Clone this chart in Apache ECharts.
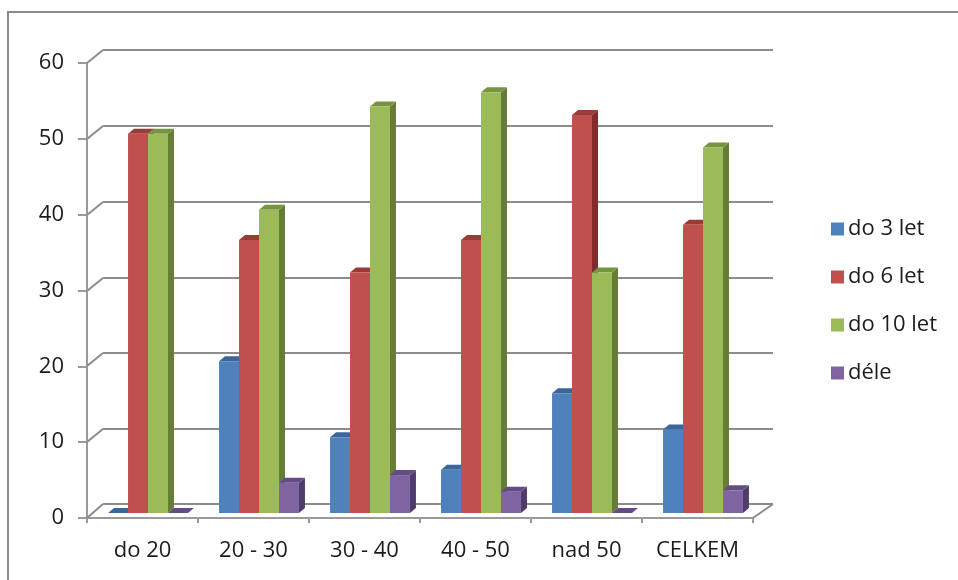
<!DOCTYPE html>
<html>
<head>
<meta charset="utf-8">
<script src="https://cdn.jsdelivr.net/npm/echarts@6/dist/echarts.min.js"></script>
<style>html,body{margin:0;padding:0;background:#fff;}#c{width:958px;height:580px;}</style>
</head>
<body>
<div id="c"></div>
<script>
const categories = ['do 20', '20 - 30', '30 - 40', '40 - 50', 'nad 50', 'CELKEM'];
const seriesNames = ['do 3 let', 'do 6 let', 'do 10 let', 'déle'];
const do3 = [0, 20, 10, 5.7, 15.8, 11];
const do6 = [50, 36, 31.7, 36, 52.5, 38];
const do10 = [50, 40, 53.6, 55.5, 31.7, 48.2];
const dele = [0, 4, 5, 2.8, 0, 3];
const yTicks = [0, 10, 20, 30, 40, 50, 60];

const seriesValues = [do3, do6, do10, dele];
const fronts = ['#4F81BD', '#C0504D', '#9BBB59', '#8064A2'];
const tops = ['#3B6699', '#9A3B38', '#779540', '#644C85'];
const sides = ['#2F5684', '#7E2D2B', '#667D37', '#503C6C'];
const FONT = 'Open Sans';
const TEXT_C = '#1c1c1c';
const GRID_C = '#8c8c8c';

const chart = echarts.init(document.getElementById('c'), null, {renderer: 'canvas'});

function gridRender(params, api) {
  const cs = params.coordSys;
  const v = api.value(1);
  const y = Math.round(api.coord([0, v])[1]);
  const left = cs.x, right = cs.x + cs.width;
  const dy = v === 0 ? -14 : -13;
  const children = [
    {type: 'line', shape: {x1: left, y1: y, x2: left + 16, y2: y + dy}, style: {stroke: GRID_C, lineWidth: 2}},
    {type: 'line', shape: {x1: left + 16, y1: y + dy, x2: right + 20, y2: y + dy}, style: {stroke: GRID_C, lineWidth: 2}}
  ];
  if (v === 0) {
    children.push({type: 'line', shape: {x1: right, y1: y, x2: right + 20, y2: y + dy}, style: {stroke: GRID_C, lineWidth: 2}});
  }
  return {type: 'group', children: children};
}

function makeBarRender(s) {
  return function (params, api) {
    const idx = api.value(0);
    const val = api.value(1);
    const base = api.coord([idx, 0]);
    const top = api.coord([idx, val]);
    const bandW = api.size([1, 0])[0];
    const barW = bandW * 0.18;
    const shiftX = 5.5, shiftY = -5;
    const dx = 6, dy = 5;
    const x0 = base[0] - 2 * barW + shiftX + s * barW;
    const yb = base[1] + shiftY;
    const yt = top[1] + shiftY;
    return {
      type: 'group',
      children: [
        {type: 'polygon', shape: {points: [[x0 + barW, yt], [x0 + barW + dx, yt - dy], [x0 + barW + dx, yb - dy], [x0 + barW, yb]]}, style: {fill: sides[s]}},
        {type: 'polygon', shape: {points: [[x0, yt], [x0 + dx, yt - dy], [x0 + barW + dx, yt - dy], [x0 + barW, yt]]}, style: {fill: tops[s]}},
        {type: 'rect', shape: {x: x0, y: yt, width: barW, height: yb - yt}, style: {fill: fronts[s]}}
      ]
    };
  };
}

const series = [{
  type: 'custom',
  name: 'grid',
  xAxisIndex: 0, yAxisIndex: 0,
  renderItem: gridRender,
  data: yTicks.map(v => [0, v]),
  clip: false, silent: true, z: 1
}];
seriesValues.forEach((vals, s) => {
  series.push({
    type: 'custom',
    name: seriesNames[s],
    xAxisIndex: 0, yAxisIndex: 0,
    itemStyle: {color: fronts[s]},
    renderItem: makeBarRender(s),
    data: vals.map((v, i) => [i, v]),
    clip: false, z: 3
  });
});

chart.setOption({
  animation: false,
  backgroundColor: '#fff',
  graphic: [{
    type: 'polyline', silent: true,
    shape: {points: [[8, 580], [8, 12], [958, 12]]},
    style: {stroke: '#8a8a8a', lineWidth: 2, fill: null}
  }],
  legend: {
    orient: 'vertical',
    left: 826, top: 212,
    itemWidth: 13, itemHeight: 13,
    itemGap: 24,
    icon: 'rect',
    data: seriesNames,
    textStyle: {fontFamily: FONT, fontSize: 22, color: TEXT_C, lineHeight: 24, padding: [0, 0, 0, -1]}
  },
  grid: {left: 87, top: 63, width: 666, height: 455, containLabel: false},
  xAxis: {
    type: 'category',
    data: categories,
    boundaryGap: true,
    axisLine: {show: true, lineStyle: {color: '#9a9a9a', width: 2}},
    axisTick: {show: true, length: 5, lineStyle: {color: '#9a9a9a', width: 2}},
    axisLabel: {fontFamily: FONT, fontSize: 22, color: TEXT_C, margin: 22}
  },
  yAxis: {
    type: 'value',
    min: 0, max: 60, interval: 10,
    axisLine: {show: true, lineStyle: {color: '#9a9a9a', width: 2}},
    axisTick: {show: true, length: 9, lineStyle: {color: '#9a9a9a', width: 2}},
    splitLine: {show: false},
    axisLabel: {fontFamily: FONT, fontSize: 22, color: TEXT_C, margin: 23}
  },
  series: series
});
</script>
</body>
</html>
